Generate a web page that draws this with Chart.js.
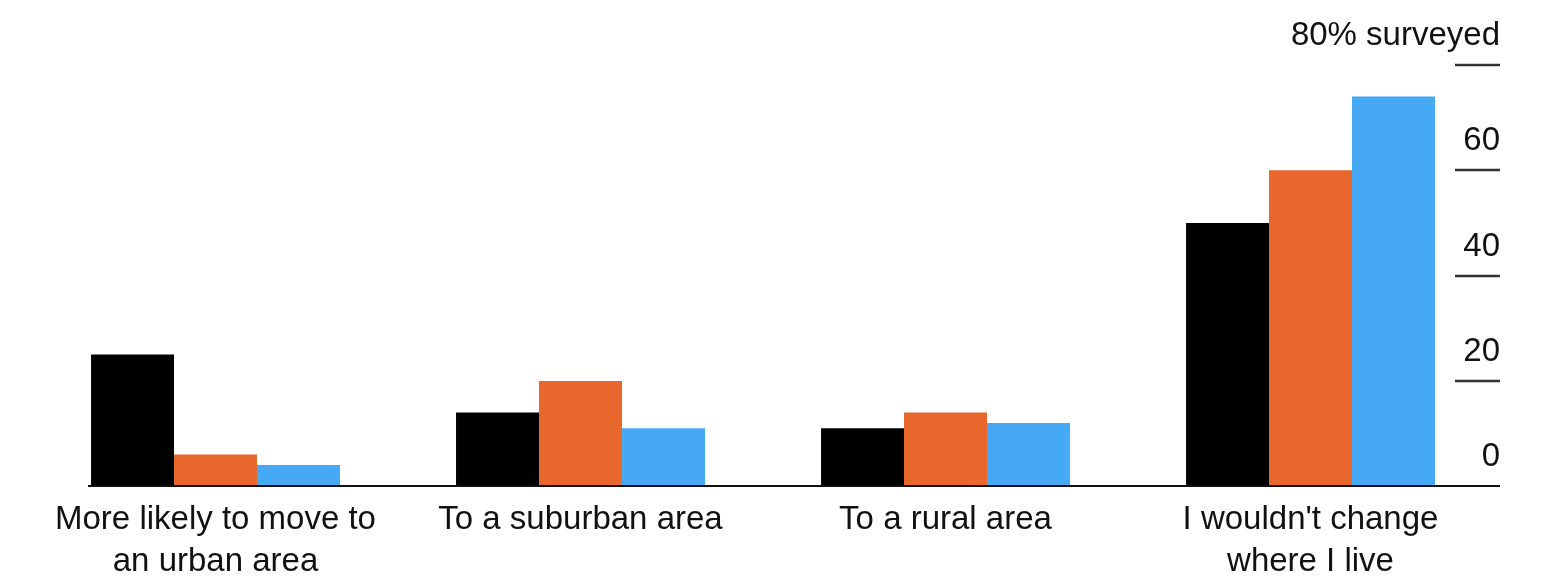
<!DOCTYPE html>
<html>
<head>
<meta charset="utf-8">
<script src="https://cdn.jsdelivr.net/npm/chart.js@4/dist/chart.umd.min.js"></script>
<style>
  html, body { margin: 0; padding: 0; background: #fff; }
  #wrap { width: 1549px; height: 580px; }
</style>
</head>
<body>
<div id="wrap"><canvas id="canvas"></canvas></div>
<script>
var categories = [
    ['More likely to move to', 'an urban area'],
    'To a suburban area',
    'To a rural area',
    ["I wouldn't change", 'where I live']
];
var seriesBlack = [25, 14, 11, 50];
var seriesOrange = [6, 20, 14, 60];
var seriesBlue = [4, 11, 12, 74];
var yTickValues = [0, 20, 40, 60, 80];
var yTickLabels = ['0', '20', '40', '60', '80% surveyed'];

var FONT = "'Liberation Sans', Arial, Helvetica, sans-serif";

// short tick marks on the right + the zero baseline
var axisDecor = {
    id: 'axisDecor',
    afterDatasetsDraw: function(chart) {
        var ctx = chart.ctx;
        var y = chart.scales.y;
        var area = chart.chartArea;
        var right = area.right + 7;
        ctx.save();
        ctx.strokeStyle = '#333';
        ctx.lineWidth = 2.5;
        yTickValues.forEach(function(v) {
            if (v === 0) return;
            var py = Math.round(y.getPixelForValue(v));
            ctx.beginPath();
            ctx.moveTo(right - 45, py);
            ctx.lineTo(right, py);
            ctx.stroke();
        });
        var bar = chart.getDatasetMeta(0).data[0];
        var x0 = bar.x - bar.width / 2 - 3;
        var py0 = Math.round(y.getPixelForValue(0));
        ctx.strokeStyle = '#111';
        ctx.lineWidth = 2;
        ctx.beginPath();
        ctx.moveTo(x0, py0);
        ctx.lineTo(right, py0);
        ctx.stroke();
        ctx.restore();
    }
};

var config = {
    type: 'bar',
    data: {
        labels: categories,
        datasets: [{
            data: seriesBlack,
            backgroundColor: '#000000'
        }, {
            data: seriesOrange,
            backgroundColor: '#E8672C'
        }, {
            data: seriesBlue,
            backgroundColor: '#45A9F6'
        }]
    },
    options: {
        responsive: true,
        maintainAspectRatio: false,
        animation: false,
        layout: {
            padding: { top: 65, right: 42, left: 33, bottom: -16 }
        },
        plugins: {
            legend: { display: false },
            tooltip: { enabled: false }
        },
        datasets: {
            bar: {
                categoryPercentage: 0.682,
                barPercentage: 1.0
            }
        },
        scales: {
            x: {
                grid: { display: false, drawTicks: false },
                border: { display: false },
                ticks: {
                    padding: 13,
                    maxRotation: 0,
                    autoSkip: false,
                    color: '#111',
                    font: { family: FONT, size: 33, lineHeight: 1.27 }
                }
            },
            y: {
                position: 'right',
                min: 0,
                max: 80,
                grid: { display: false, drawTicks: false },
                border: { display: false },
                afterBuildTicks: function(scale) {
                    scale.ticks = yTickValues.map(function(v) { return { value: v }; });
                },
                ticks: {
                    mirror: true,
                    crossAlign: 'near',
                    padding: 7,
                    labelOffset: -29,
                    color: '#111',
                    font: { family: FONT, size: 33 },
                    callback: function(value) {
                        var i = yTickValues.indexOf(value);
                        return i >= 0 ? yTickLabels[i] : '';
                    }
                }
            }
        }
    },
    plugins: [axisDecor]
};

window.myBar = new Chart(document.getElementById('canvas'), config);
</script>
</body>
</html>
